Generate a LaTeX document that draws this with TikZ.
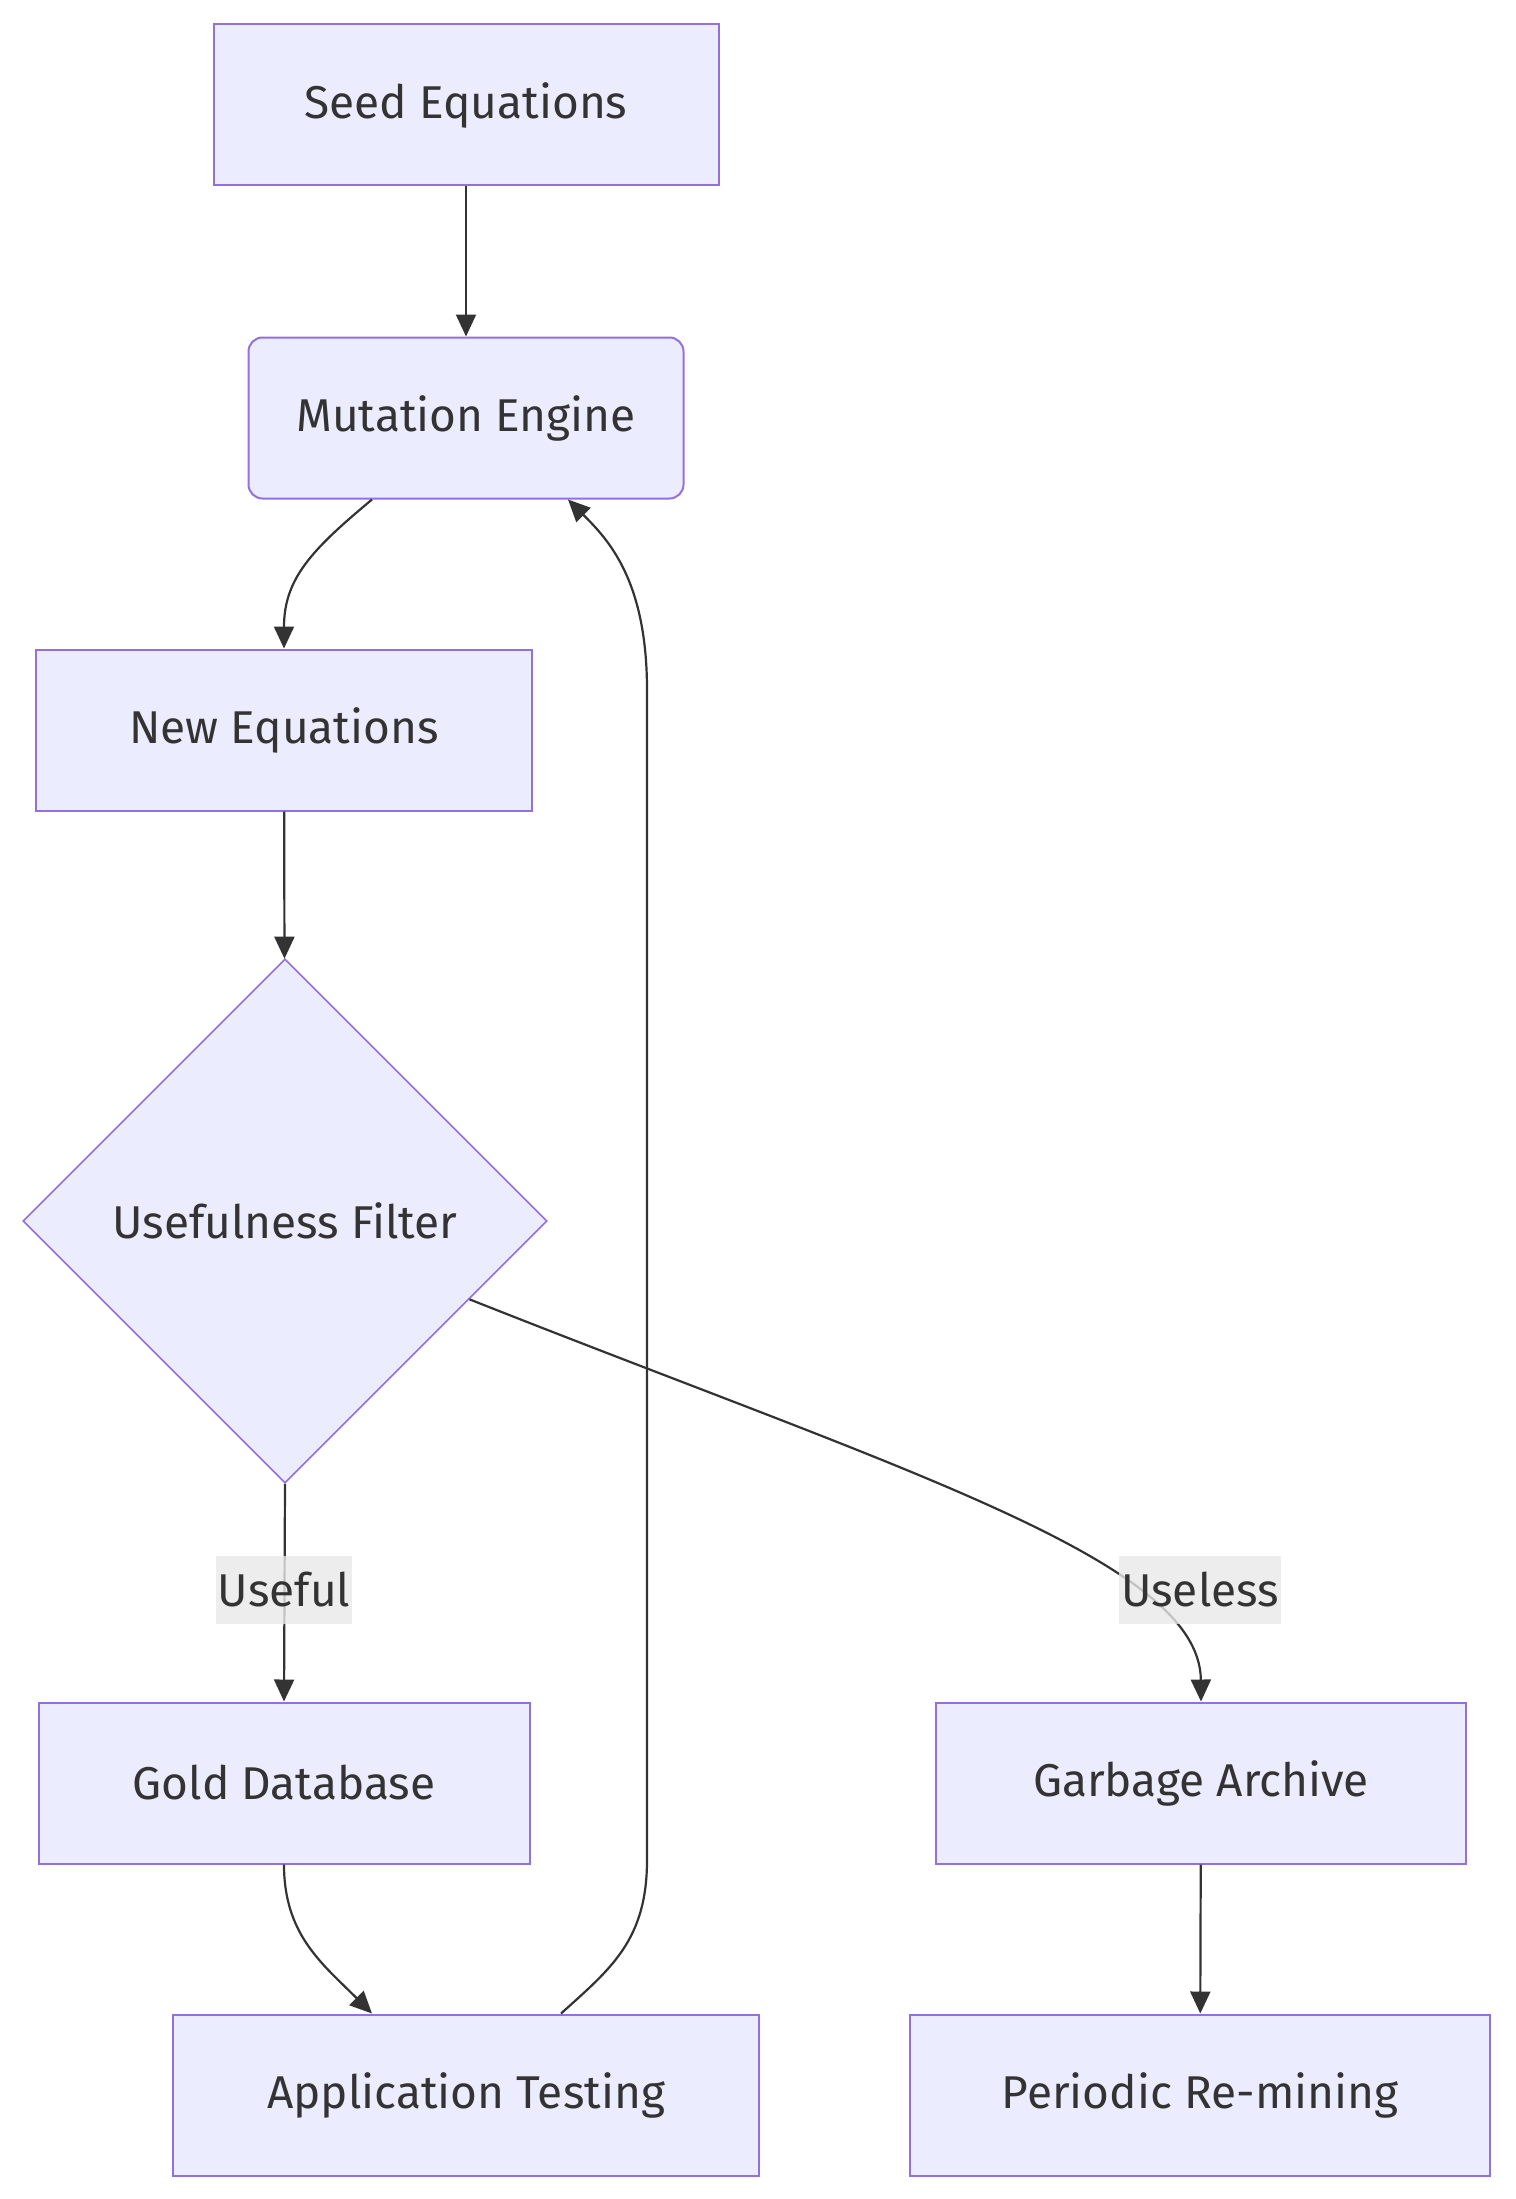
\documentclass[tikz,border=0pt]{standalone}
\usepackage{fontspec}
\setmainfont{Fira Sans}
\usetikzlibrary{shapes.geometric, arrows.meta, positioning}
\definecolor{nodefill}{HTML}{ECECFF}
\definecolor{nodeline}{HTML}{9370DB}
\definecolor{edgeline}{HTML}{333333}
\definecolor{labelfill}{HTML}{E8E8E8}

\begin{document}
\begin{tikzpicture}[x=0.5pt, y=-0.5pt]
      \tikzstyle{every node}=[font=\fontsize{23}{27}\selectfont, text=edgeline]
      \tikzstyle{box}=[rectangle, draw=nodeline, fill=nodefill, line width=1pt, minimum height=80.5pt, inner sep=0pt]
      \tikzstyle{decision}=[diamond, draw=nodeline, fill=nodefill, line width=0.8pt, minimum width=262pt, minimum height=262pt, inner sep=0pt]
      \tikzstyle{edgelabel}=[fill=labelfill, fill opacity=0.8, text opacity=1, inner xsep=1pt, inner ysep=0pt, minimum height=34pt]
      \tikzstyle{flow}=[draw=edgeline, line width=1.1pt, -{Triangle[length=11pt, width=10pt]}]
      \useasboundingbox (0,0) rectangle (1515,2199);
      % nodes
      \node [box, minimum width=252.5pt] (seed) at (466,105) {Seed Equations};
      \node [box, rounded corners=7pt, minimum width=217.5pt] (mutation) at (466,418) {Mutation Engine};
      \node [box, minimum width=248pt] (neweq) at (284,730) {New Equations};
      \node [decision] (filter) at (285,1221) {Usefulness Filter};
      \node [box, minimum width=245.5pt] (gold) at (284,1783) {Gold Database};
      \node [box, minimum width=265pt] (garbage) at (1201,1783) {Garbage Archive};
      \node [box, minimum width=293pt] (apptest) at (466,2095) {Application Testing};
      \node [box, minimum width=290pt] (remine) at (1200,2095) {Periodic Re-mining};
      % loop corners
      \coordinate (loopLow) at (647,1860);
      \coordinate (loopHigh) at (647,690);
      % edges
      \draw [flow] (seed) -- (mutation);
      \draw [flow] ([xshift=-47pt]mutation.south) .. controls +(-60,50) and +(0,-70) .. (neweq.north);
      \draw [flow] (neweq) -- (filter);
      \draw [flow] (filter.south) -- (gold.north);
      \draw [flow] (filter.-23) .. controls (900,1470) and (1200,1560) .. (garbage.north);
      \draw [flow] (gold.south) .. controls +(0,70) and +(-50,-50) .. ([xshift=-47pt]apptest.north);
      \draw [flow] ([xshift=47.5pt]apptest.north) .. controls +(50,-45) and +(0,80) .. (loopLow)
        -- (loopHigh) .. controls +(0,-110) and +(40,40) .. ([xshift=51pt]mutation.south);
      \draw [flow] (garbage) -- (remine);
      % edge labels
      \node [edgelabel] (usefulLbl) at (284,1590) {Useful};
      \node [edgelabel] (uselessLbl) at (1200,1590) {Useless};
\end{tikzpicture}
\end{document}
